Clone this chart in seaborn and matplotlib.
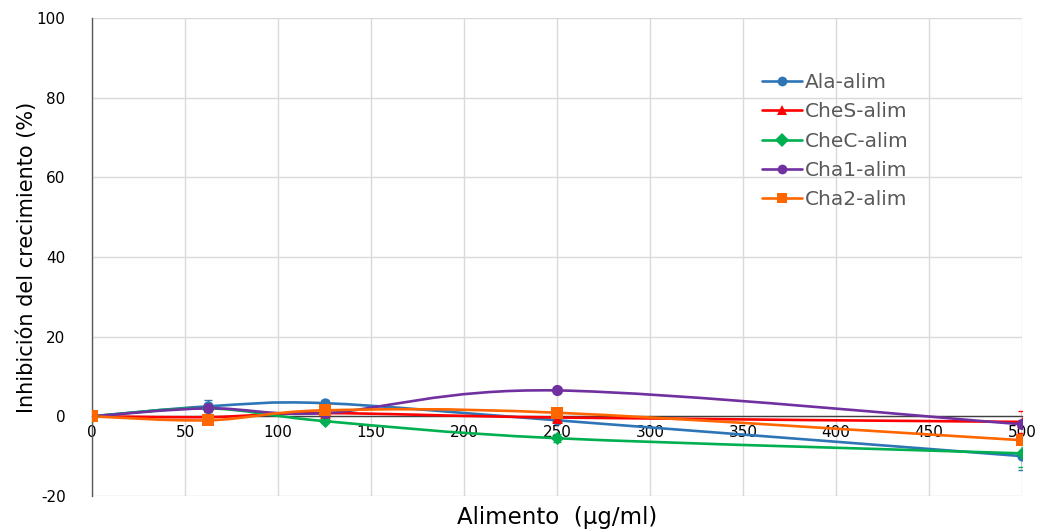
import numpy as np
import pandas as pd
import matplotlib
matplotlib.use("Agg")
import matplotlib.pyplot as plt
import seaborn as sns
from matplotlib.path import Path
from matplotlib.patches import PathPatch
from matplotlib.lines import Line2D

# Concentraciones de alimento (ug/ml)
dosis = [0, 62.5, 125, 250, 500]

# Inhibicion del crecimiento (%) por serie
ala = [0, 2.5, 3.3, -1.0, -10.0]
ches = [0, -0.2, 0.8, -0.3, -1.4]
chec = [0, 2.0, -1.2, -5.5, -9.3]
cha1 = [0, 2.0, 0.8, 6.5, -2.0]
cha2 = [0, -1.0, 1.5, 0.9, -6.0]

# Desviaciones (barras de error)
err_ala = [0, 1.5, 0.8, 0.5, 3.6]
err_ches = [0, 0.5, 0.5, 0.5, 2.7]
err_chec = [0, 1.0, 0.5, 1.0, 3.3]
err_cha1 = [0, 0.5, 0.5, 0.5, 1.0]
err_cha2 = [0, 0.5, 0.5, 0.5, 1.0]

series = ["Ala-alim", "CheS-alim", "CheC-alim", "Cha1-alim", "Cha2-alim"]
valores = [ala, ches, chec, cha1, cha2]
errores = [err_ala, err_ches, err_chec, err_cha1, err_cha2]
colores = ["#2E75B6", "#FF0000", "#00B050", "#7030A0", "#FF6600"]
marcadores = ["o", "^", "D", "o", "s"]
tamanos = [55, 60, 45, 65, 70]

df = pd.DataFrame({
    "Alimento": dosis * len(series),
    "Inhibicion": sum(valores, []),
    "Serie": np.repeat(series, len(dosis)),
})


def curva_suave(x, y):
    # curva suavizada tipo Excel (Catmull-Rom como Bezier cubica)
    pts = np.column_stack([x, y]).astype(float)
    ext = np.vstack([pts[0], pts, pts[-1]])
    verts = [pts[0]]
    codes = [Path.MOVETO]
    for i in range(len(pts) - 1):
        p0, p1, p2, p3 = ext[i], ext[i + 1], ext[i + 2], ext[i + 3]
        verts += [p1 + (p2 - p0) / 6, p2 - (p3 - p1) / 6, p2]
        codes += [Path.CURVE4] * 3
    return Path(verts, codes)


sns.set_theme(style="white")
plt.rcParams["font.family"] = ["DejaVu Sans"]
plt.rcParams["axes.unicode_minus"] = False

fig = plt.figure(figsize=(10.42, 5.32), dpi=100)
ax = fig.add_axes([0.0883, 0.0677, 0.8925, 0.8985])

for i, (nombre, ys, err, col) in enumerate(zip(series, valores, errores, colores)):
    ax.add_patch(PathPatch(curva_suave(dosis, ys), facecolor="none",
                           edgecolor=col, lw=1.9, zorder=3 + i * 0.1))
    ax.errorbar(dosis, ys, yerr=err, fmt="none", ecolor=col, elinewidth=1,
                capsize=3, capthick=1, zorder=3 + i * 0.1)

for i, nombre in enumerate(series):
    sns.scatterplot(data=df[df["Serie"] == nombre], x="Alimento", y="Inhibicion",
                    color=colores[i], marker=marcadores[i], s=tamanos[i],
                    edgecolor=colores[i], linewidth=0, legend=False,
                    ax=ax, zorder=4 + i * 0.1)

ax.set_xlim(0, 500)
ax.set_ylim(-20, 100)
ax.set_xticks(np.arange(0, 501, 50))
ax.set_yticks(np.arange(-20, 101, 20))
ax.grid(True, color="#d9d9d9", lw=1)
ax.set_axisbelow(True)

for lado in ["top", "right"]:
    ax.spines[lado].set_visible(False)
ax.spines["left"].set_color("#595959")
ax.spines["left"].set_linewidth(1)
ax.spines["bottom"].set_position(("data", 0))
ax.spines["bottom"].set_color("#404040")
ax.spines["bottom"].set_linewidth(1)
ax.spines["bottom"].set_zorder(2.5)

ax.tick_params(axis="x", length=0, pad=6, labelsize=11, labelcolor="#000000")
ax.tick_params(axis="y", length=0, pad=19, labelsize=11, labelcolor="#000000")

ax.set_xlabel("Alimento  (µg/ml)", fontsize=16.5, color="#000000", va="top")
ax.xaxis.set_label_coords(0.5, -0.021)
ax.set_ylabel("Inhibición del crecimiento (%)", fontsize=15, color="#000000")
ax.yaxis.set_label_coords(-0.059, 0.5)

handles = [Line2D([0], [0], color=c, lw=1.9, marker=m, markersize=7,
                  markeredgewidth=0) for c, m in zip(colores, marcadores)]
fig.legend(handles, series, loc="upper left", bbox_to_anchor=(0.731, 0.862),
           frameon=False, fontsize=14.5, labelcolor="#595959", handlelength=2.0,
           handletextpad=0.15, labelspacing=0.5, borderpad=0, borderaxespad=0)

fig.savefig("out.png", dpi=100)
